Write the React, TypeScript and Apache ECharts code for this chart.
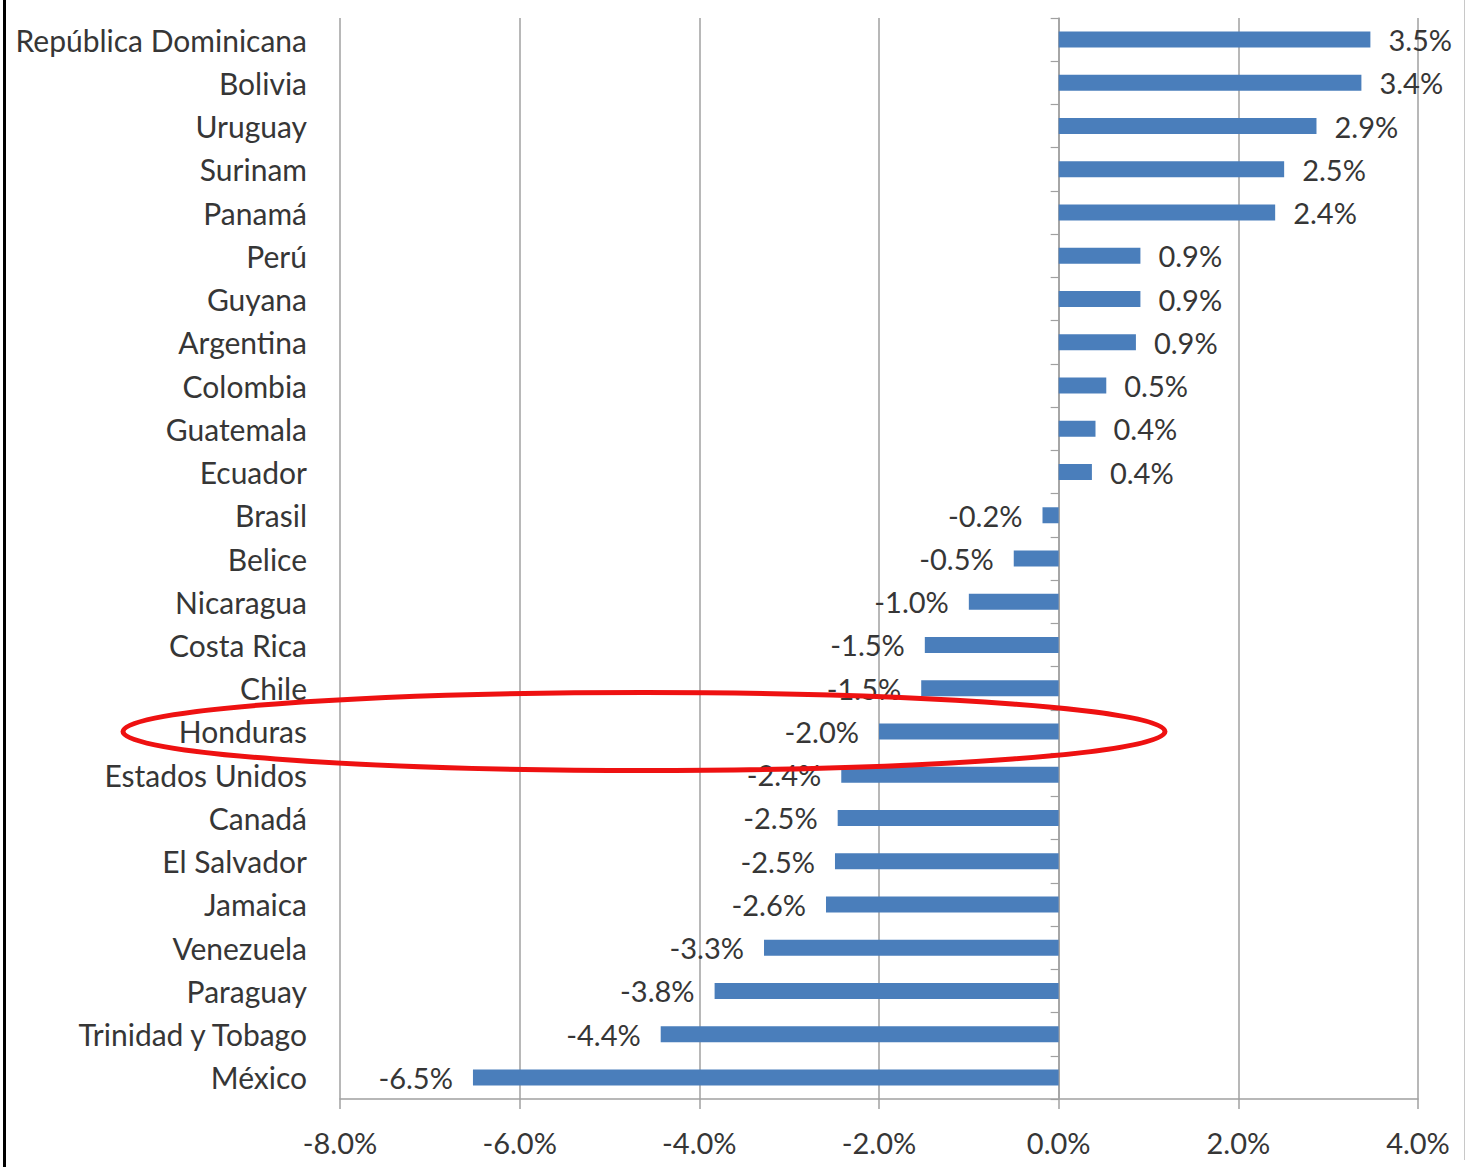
import React, { useEffect, useRef } from "react";
import * as echarts from "echarts";

const categories = [
  "República Dominicana", "Bolivia", "Uruguay", "Surinam", "Panamá", "Perú", "Guyana",
  "Argentina", "Colombia", "Guatemala", "Ecuador", "Brasil", "Belice", "Nicaragua",
  "Costa Rica", "Chile", "Honduras", "Estados Unidos", "Canadá", "El Salvador",
  "Jamaica", "Venezuela", "Paraguay", "Trinidad y Tobago", "México",
];
const values = [
  3.47, 3.37, 2.87, 2.51, 2.41, 0.91, 0.91, 0.86, 0.53, 0.41, 0.37, -0.18, -0.5,
  -1.0, -1.49, -1.53, -2.0, -2.42, -2.46, -2.49, -2.59, -3.28, -3.83, -4.43, -6.52,
];
const xMin = -8;
const xMax = 4;
const xStep = 2;
const highlighted = "Honduras";

const FONT = "Lato";
const TEXT = "#363636";
const GRID = "#a0a0a0";

export default function App() {
  const ref = useRef<HTMLDivElement>(null);
  useEffect(() => {
    document.body.style.margin = "0";
    const chart = echarts.init(ref.current!, null, { renderer: "svg" });
    const option: any = {
      animation: false,
      backgroundColor: "#ffffff",
      grid: { left: 340, right: 50, top: 18, bottom: 68, containLabel: false },
      xAxis: {
        type: "value",
        min: xMin,
        max: xMax,
        interval: xStep,
        axisLine: { show: true, onZero: false, lineStyle: { color: GRID, width: 1.5 } },
        axisTick: { show: true, length: 10, lineStyle: { color: GRID, width: 1.5 } },
        splitLine: { show: true, lineStyle: { color: GRID, width: 1.5 } },
        axisLabel: {
          margin: 29,
          fontFamily: FONT,
          fontSize: 29,
          color: TEXT,
          formatter: (v: number) => v.toFixed(1) + "%",
        },
      },
      yAxis: [
        {
          type: "category",
          data: categories,
          inverse: true,
          position: "left",
          axisLine: { show: false },
          axisTick: { show: false },
          splitLine: { show: false },
          axisLabel: {
            margin: 33,
            fontFamily: FONT,
            fontSize: 30,
            color: TEXT,
            padding: [0, 0, 5, 0],
          },
        },
        {
          type: "category",
          data: categories,
          inverse: true,
          position: "left",
          axisLine: { show: true, onZero: true, onZeroAxisIndex: 0, lineStyle: { color: GRID, width: 1.5 } },
          axisTick: { show: true, length: 8, lineStyle: { color: GRID, width: 1.2 } },
          axisLabel: { show: false },
          splitLine: { show: false },
        },
      ],
      series: [
        {
          type: "bar",
          yAxisIndex: 0,
          barWidth: 16,
          itemStyle: { color: "#4a7ebb" },
          data: values.map((v) => ({
            value: v,
            label: {
              show: true,
              position: v >= 0 ? "right" : "left",
              distance: v >= 0 ? 18 : 20,
              fontFamily: FONT,
              fontSize: 29,
              color: TEXT,
              padding: [0, 0, 3, 0],
              formatter: () => v.toFixed(1) + "%",
            },
          })),
        },
      ],
    };
    chart.setOption(option);
    const idx = categories.indexOf(highlighted);
    const cy = chart.convertToPixel({ yAxisIndex: 0 }, idx) as number;
    chart.setOption({
      graphic: [
        {
          type: "ellipse",
          z: 100,
          shape: { cx: 644, cy: cy, rx: 521, ry: 39 },
          style: { fill: "none", stroke: "#ee1111", lineWidth: 5 },
        },
        {
          type: "line",
          z: 100,
          shape: { x1: 4.5, y1: 0, x2: 4.5, y2: 1167 },
          style: { stroke: "#000000", lineWidth: 3 },
        },
        {
          type: "line",
          z: 100,
          shape: { x1: 1464.5, y1: 0, x2: 1464.5, y2: 1160 },
          style: { stroke: "#c8c8c8", lineWidth: 1 },
        },
      ],
    });
    return () => chart.dispose();
  }, []);
  return <div ref={ref} style={{ width: 1468, height: 1167 }} />;
}
